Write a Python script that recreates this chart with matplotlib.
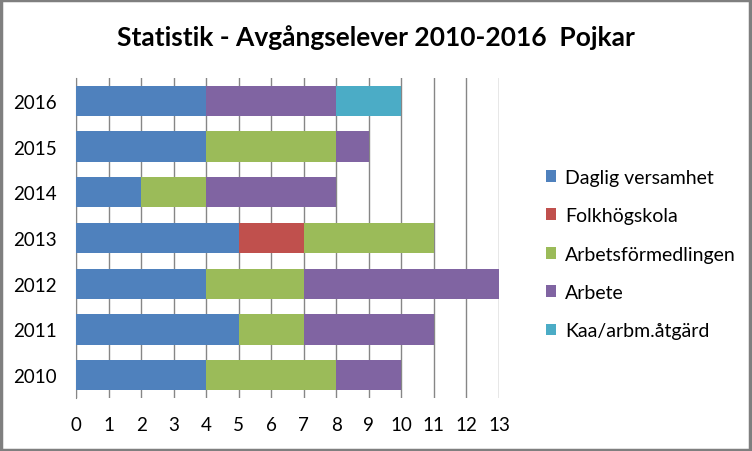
import matplotlib
matplotlib.use("Agg")
import matplotlib.pyplot as plt
from matplotlib.patches import Rectangle
import numpy as np

plt.rcParams['font.family'] = ['Lato', 'DejaVu Sans']

years = ["2010", "2011", "2012", "2013", "2014", "2015", "2016"]
series_names = ["Daglig versamhet", "Folkhögskola", "Arbetsförmedlingen", "Arbete", "Kaa/arbm.åtgärd"]
daglig = [4, 5, 4, 5, 2, 4, 4]
folk = [0, 0, 0, 2, 0, 0, 0]
arbetsf = [4, 2, 3, 4, 2, 4, 0]
arbete = [2, 4, 6, 0, 4, 1, 4]
kaa = [0, 0, 0, 0, 0, 0, 2]
colors = ["#4F81BD", "#C0504D", "#9BBB59", "#8064A2", "#4BACC6"]
xticks = list(range(0, 14))

fig = plt.figure(figsize=(7.52, 4.52), dpi=100)
ax = fig.add_axes([76/752, 1-399/452, (499-76)/752, (399-79)/452])

y = np.arange(len(years))
left = np.zeros(len(years))
for name, vals, c in zip(series_names, [daglig, folk, arbetsf, arbete, kaa], colors):
    ax.barh(y, vals, left=left, height=0.66, color=c, label=name, zorder=3)
    left = left + np.array(vals)

ax.set_xlim(0, 13)
ax.set_ylim(-0.5, len(years) - 0.5)
ax.set_xticks(xticks)
ax.set_yticks(y)
ax.set_yticklabels(years)
ax.grid(axis='x', color='#868686', linewidth=1, zorder=0)
for s in ['top', 'right', 'bottom']:
    ax.spines[s].set_visible(False)
ax.spines['left'].set_color('#868686')
ax.tick_params(axis='x', length=0, pad=13, labelsize=13.5)
ax.tick_params(axis='y', length=0, pad=14, labelsize=13.5)

fig.suptitle("Statistik - Avgångselever 2010-2016  Pojkar", x=0.5, y=1-38/452,
             va='center', fontsize=19, fontweight='bold')

leg = fig.legend(loc='upper left', bbox_to_anchor=(538/752, 1-162/452), frameon=False,
                 fontsize=14, handlelength=0.55, handleheight=0.55, handletextpad=0.45,
                 labelspacing=1.1, borderaxespad=0)

fig.patches.append(Rectangle((0.001, 0.002), 0.997, 0.996, transform=fig.transFigure,
                             fill=False, edgecolor='#7f7f7f', linewidth=2.5))

fig.savefig("out.png", dpi=100)
